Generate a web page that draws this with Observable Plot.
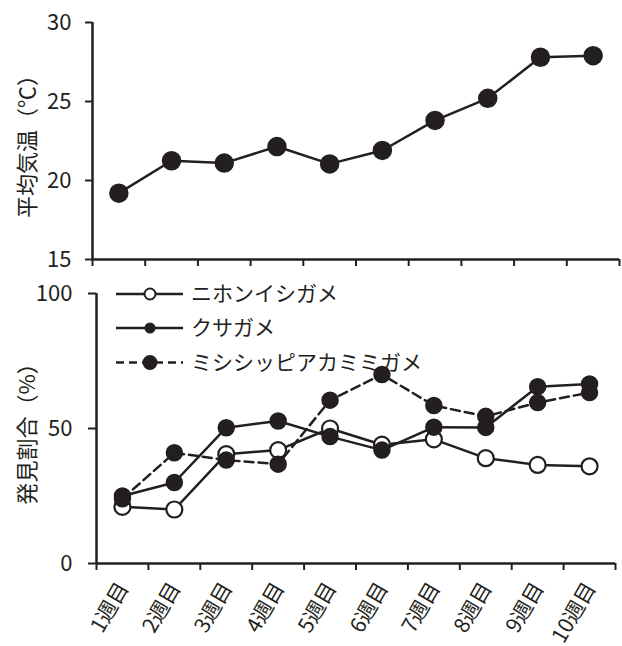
<!DOCTYPE html>
<html>
<head>
<meta charset="utf-8">
<script src="https://cdn.jsdelivr.net/npm/d3@7"></script>
<script src="https://cdn.jsdelivr.net/npm/@observablehq/plot@0.6"></script>
<style>
  body { margin: 0; background: #fff; }
  #chart { position: relative; width: 622px; height: 646px; font-family: "Noto Sans CJK JP", "Noto Sans", sans-serif; }
  #chart svg { display: block; }
  #legend { position: absolute; left: 0; top: 0; pointer-events: none; }
</style>
</head>
<body>
<div id="chart"></div>
<script>
// ---- data ----
const weeks = ["1週目", "2週目", "3週目", "4週目", "5週目", "6週目", "7週目", "8週目", "9週目", "10週目"];
const temperature = [19.2, 21.25, 21.1, 22.15, 21.05, 21.9, 23.8, 25.2, 27.8, 27.9];
const seriesNames = ["ニホンイシガメ", "クサガメ", "ミシシッピアカミミガメ"];
const nihon = [21, 20, 40.5, 42, 50, 44, 46, 39, 36.5, 36];
const kusa = [25, 30, 50.3, 52.8, 47, 42, 50.5, 50.4, 65.5, 66.5];
const mimi = [24, 41, 38.3, 36.8, 60.5, 70, 58.5, 54.5, 59.6, 63.3];
const tempTicks = [15, 20, 25, 30];
const pctTicks = [0, 50, 100];

const ink = "#231f20";
const font = '"Noto Sans CJK JP", "Noto Sans", sans-serif';
const boundaries = d3.range(0, weeks.length + 1);

const chartEl = document.getElementById("chart");

// ---- top panel: temperature ----
const tempRows = weeks.map((w, i) => ({pos: i + 0.5, week: w, value: temperature[i]}));
const topPlot = Plot.plot({
  width: 622, height: 272,
  marginTop: 22, marginBottom: 13, marginLeft: 92, marginRight: 3,
  style: {fontFamily: font, fontSize: "22px", color: ink, background: "white", overflow: "visible"},
  x: {domain: [0, weeks.length], label: null},
  y: {domain: [15, 30], label: null},
  marks: [
    Plot.axisY({ticks: tempTicks, tickSize: 7, tickPadding: 14, strokeWidth: 2, fontSize: 22,
      label: "平均気温（℃）", labelAnchor: "center", labelArrow: "none", labelOffset: 73}),
    Plot.axisX({ticks: boundaries, tickSize: 7, strokeWidth: 2, tickFormat: () => "", label: null}),
    Plot.ruleX([0], {stroke: ink, strokeWidth: 2.5}),
    Plot.ruleY([15], {stroke: ink, strokeWidth: 2.5}),
    Plot.line(tempRows, {x: "pos", y: "value", stroke: ink, strokeWidth: 2.5}),
    Plot.dot(tempRows, {x: "pos", y: "value", r: 9, fill: ink, stroke: ink})
  ]
});
chartEl.appendChild(topPlot);

// ---- bottom panel: detection rate ----
const rows = [];
[nihon, kusa, mimi].forEach((arr, s) => arr.forEach((v, i) => rows.push({series: seriesNames[s], pos: i + 0.5, value: v})));
const bySeries = name => rows.filter(d => d.series === name);

const bottomPlot = Plot.plot({
  width: 622, height: 374,
  marginTop: 21, marginBottom: 83, marginLeft: 96, marginRight: 7,
  style: {fontFamily: font, fontSize: "22px", color: ink, background: "white", overflow: "visible"},
  x: {domain: [0, weeks.length], label: null},
  y: {domain: [0, 100], label: null},
  marks: [
    Plot.axisY({ticks: pctTicks, tickSize: 8, tickPadding: 16, strokeWidth: 2, fontSize: 22,
      label: "発見割合（%）", labelAnchor: "center", labelArrow: "none", labelOffset: 77}),
    Plot.axisX({ticks: boundaries, tickSize: 7, strokeWidth: 2, tickFormat: () => "", label: null}),
    Plot.text(weeks, {x: (d, i) => i + 0.5, frameAnchor: "bottom", text: d => d, rotate: -60,
      textAnchor: "end", lineAnchor: "middle", dy: 21, dx: 1, fontSize: 21, fill: ink}),
    Plot.ruleX([0], {stroke: ink, strokeWidth: 2.5}),
    Plot.ruleY([0], {stroke: ink, strokeWidth: 2.5}),
    // ニホンイシガメ
    Plot.line(bySeries(seriesNames[0]), {x: "pos", y: "value", stroke: ink, strokeWidth: 2.5}),
    Plot.dot(bySeries(seriesNames[0]), {x: "pos", y: "value", r: 8, fill: "white", stroke: ink, strokeWidth: 2.2}),
    // クサガメ
    Plot.line(bySeries(seriesNames[1]), {x: "pos", y: "value", stroke: ink, strokeWidth: 2.5}),
    Plot.dot(bySeries(seriesNames[1]), {x: "pos", y: "value", r: 8, fill: ink, stroke: ink}),
    // ミシシッピアカミミガメ
    Plot.line(bySeries(seriesNames[2]), {x: "pos", y: "value", stroke: ink, strokeWidth: 2.5, strokeDasharray: "9,5"}),
    Plot.dot(bySeries(seriesNames[2]), {x: "pos", y: "value", r: 8, fill: ink, stroke: ink})
  ]
});
chartEl.appendChild(bottomPlot);

// ---- legend (overlay) ----
const legendSpec = [
  {name: seriesNames[0], y: 294, fill: "white", r: 5.5, dash: null},
  {name: seriesNames[1], y: 328, fill: ink, r: 4.5, dash: null},
  {name: seriesNames[2], y: 362.5, fill: ink, r: 6.5, dash: "8,5"}
];
const lg = d3.select(chartEl).append("svg").attr("id", "legend").attr("width", 622).attr("height", 646);
const item = lg.selectAll("g").data(legendSpec).join("g");
item.append("line").attr("x1", 116).attr("x2", 183).attr("y1", d => d.y).attr("y2", d => d.y)
  .attr("stroke", ink).attr("stroke-width", 2.5).attr("stroke-dasharray", d => d.dash);
item.append("circle").attr("cx", 150).attr("cy", d => d.y).attr("r", d => d.r)
  .attr("fill", d => d.fill).attr("stroke", ink).attr("stroke-width", 2);
item.append("text").attr("x", 191).attr("y", d => d.y).attr("dy", "0.35em")
  .attr("font-family", font).attr("font-size", 21).attr("fill", ink).text(d => d.name);
</script>
</body>
</html>
